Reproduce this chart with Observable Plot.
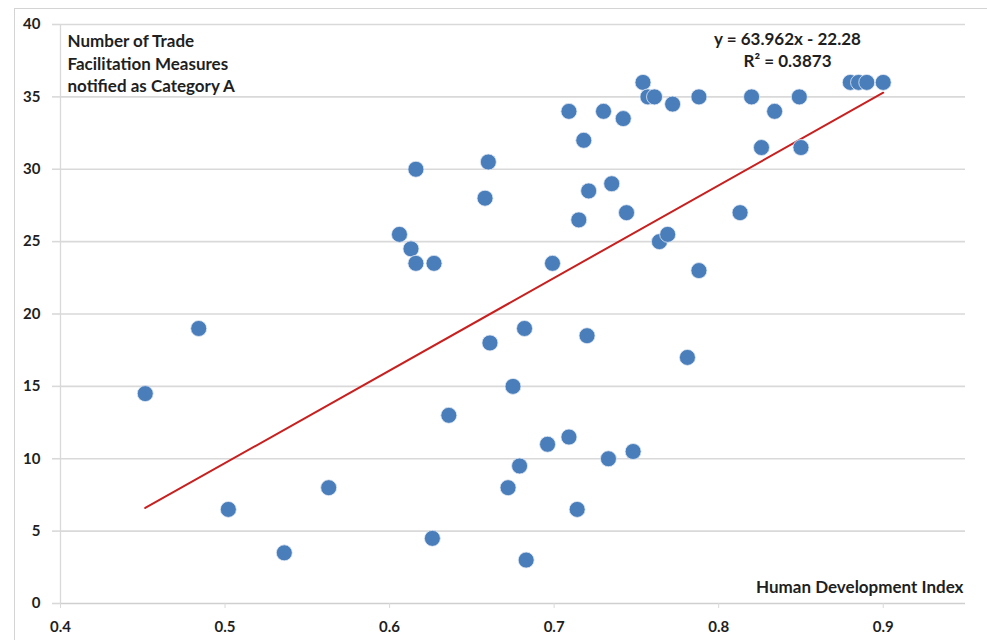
<!DOCTYPE html>
<html>
<head>
<meta charset="utf-8">
<script src="https://cdn.jsdelivr.net/npm/d3@7"></script>
<script src="https://cdn.jsdelivr.net/npm/@observablehq/plot@0.6"></script>
<style>
  html, body { margin: 0; padding: 0; background: #fff; }
  #wrap { position: relative; width: 987px; height: 640px; overflow: hidden; }
  #border { position: absolute; left: 14px; top: 8px; right: -2px; bottom: -2px;
            border-left: 1px solid #d4d4d4; border-top: 1px solid #d4d4d4; pointer-events: none; }
  svg { font-family: Lato, "Open Sans", sans-serif; }
</style>
</head>
<body>
<div id="wrap"><div id="border"></div></div>
<script>
// Human Development Index (x) vs number of TF measures notified as Category A (y)
const hdi = [
  0.4515, 0.484, 0.502, 0.536, 0.563, 0.606, 0.613, 0.616, 0.616, 0.627,
  0.626, 0.636, 0.658, 0.660, 0.661, 0.675, 0.672, 0.679, 0.682, 0.683,
  0.696, 0.699, 0.709, 0.709, 0.714, 0.715, 0.718, 0.720, 0.721, 0.730,
  0.733, 0.735, 0.742, 0.744, 0.748, 0.754, 0.757, 0.761, 0.764, 0.769,
  0.772, 0.781, 0.788, 0.788, 0.813, 0.820, 0.826, 0.834, 0.849, 0.850,
  0.880, 0.885, 0.890, 0.900
];
const measures = [
  14.5, 19, 6.5, 3.5, 8, 25.5, 24.5, 23.5, 30, 23.5,
  4.5, 13, 28, 30.5, 18, 15, 8, 9.5, 19, 3,
  11, 23.5, 34, 11.5, 6.5, 26.5, 32, 18.5, 28.5, 34,
  10, 29, 33.5, 27, 10.5, 36, 35, 35, 25, 25.5,
  34.5, 17, 35, 23, 27, 35, 31.5, 34, 35, 31.5,
  36, 36, 36, 36
];
const xTicks = [0.4, 0.5, 0.6, 0.7, 0.8, 0.9];
const yTicks = [0, 5, 10, 15, 20, 25, 30, 35, 40];
const slope = 63.962, intercept = -22.28;
const eqLabel = "y = 63.962x - 22.28";
const r2Label = "R² = 0.3873";
const yTitle = ["Number of Trade", "Facilitation Measures", "notified as Category A"];
const xTitle = "Human Development Index";

const points = hdi.map((x, i) => ({x, y: measures[i]}));
const xExt = d3.extent(hdi);
const trend = xExt.map(x => ({x, y: slope * x + intercept}));

const txt = "#1f1f1f";
const chart = Plot.plot({
  width: 987,
  height: 640,
  marginLeft: 60,
  marginRight: 22,
  marginTop: 24,
  marginBottom: 37,
  style: {fontFamily: "Lato, 'Open Sans', sans-serif", fontSize: "15px", fontWeight: "bold", color: txt, background: "transparent"},
  x: {domain: [0.4, 0.95]},
  y: {domain: [0, 40]},
  marks: [
    Plot.ruleY(yTicks.filter(d => d > 0), {stroke: "#d9d9d9", strokeWidth: 1.6}),
    Plot.ruleY([0], {stroke: "#cfcfcf", strokeWidth: 1.6}),
    Plot.ruleX([0.4], {stroke: "#d9d9d9", strokeWidth: 1.3}),
    Plot.axisY(yTicks, {tickSize: 8, tickPadding: 12, stroke: "#d9d9d9", strokeWidth: 1.6, fill: txt, fontSize: 15, fontWeight: "bold", label: null}),
    Plot.axisX(xTicks, {tickSize: 5, tickPadding: 13, stroke: "#d9d9d9", fill: txt, fontSize: 15, fontWeight: "bold", tickFormat: d => d.toFixed(1), label: null}),
    Plot.line(trend, {x: "x", y: "y", stroke: "#c8201f", strokeWidth: 2}),
    Plot.dot(points, {x: "x", y: "y", r: 8, fill: "#4a7ebb", stroke: "#e3ebf5", strokeWidth: 0.8}),
    Plot.text([yTitle.join("\n")], {frameAnchor: "top-left", dx: 7, dy: 7, lineAnchor: "top", lineHeight: 1.32, textAnchor: "start", fontSize: 17, fontWeight: "bold", fill: txt}),
    Plot.text([eqLabel + "\n" + r2Label], {frameAnchor: "top-left", dx: 727, dy: 5, lineAnchor: "top", lineHeight: 1.3, textAnchor: "middle", fontSize: 17, fontWeight: "bold", fill: txt}),
    Plot.text([xTitle], {frameAnchor: "bottom-right", dx: -2, dy: -16, lineAnchor: "middle", textAnchor: "end", fontSize: 17, fontWeight: "bold", fill: txt})
  ]
});
document.getElementById("wrap").appendChild(chart);
chart.style.position = "absolute";
chart.style.left = "0";
chart.style.top = "0";
</script>
</body>
</html>
